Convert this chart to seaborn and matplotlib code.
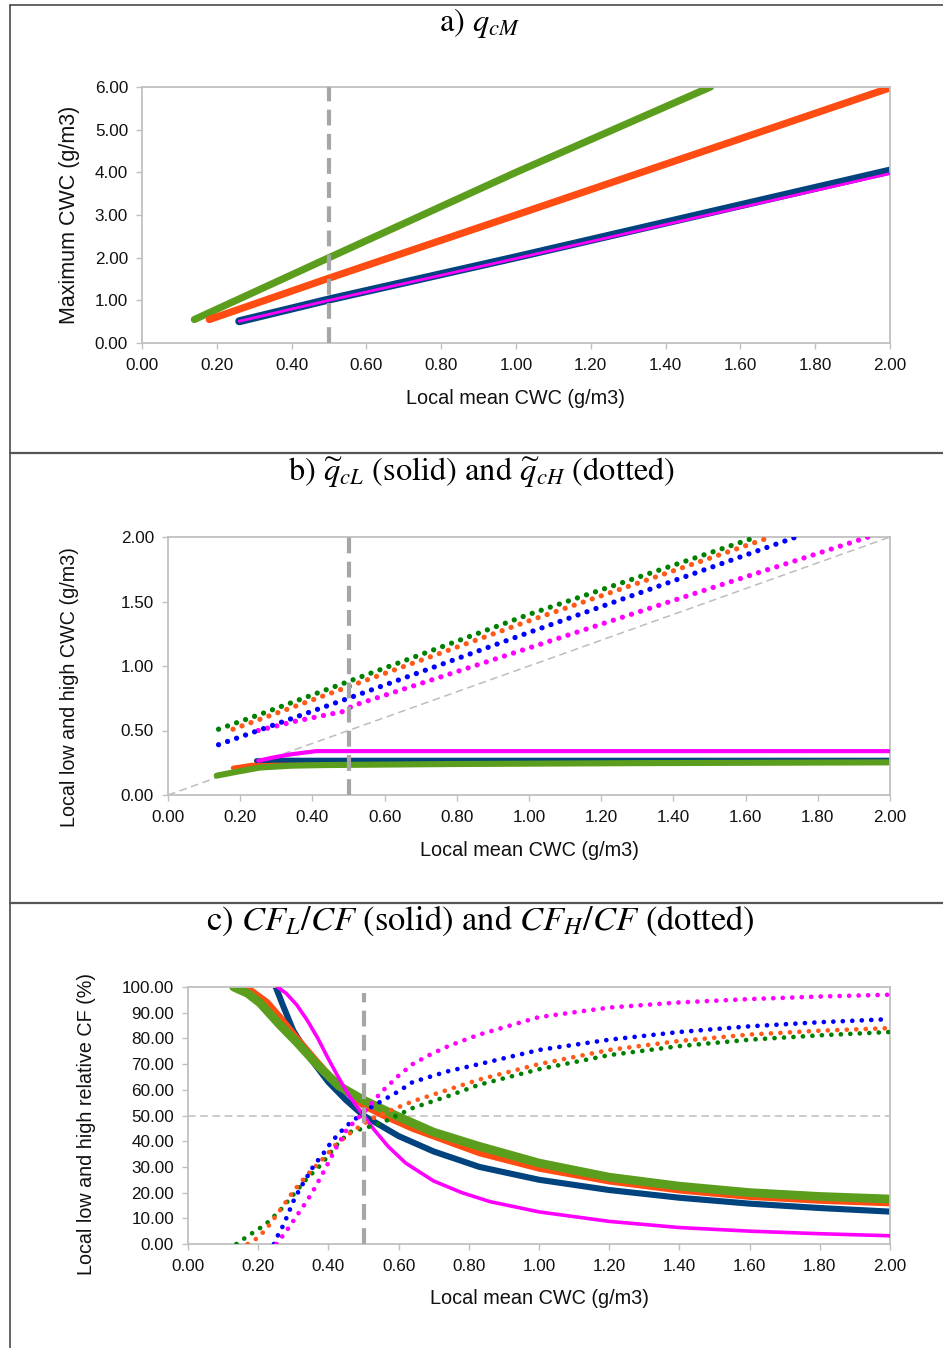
import numpy as np
import pandas as pd
import matplotlib
matplotlib.use("Agg")
import matplotlib.pyplot as plt
from matplotlib.lines import Line2D
from matplotlib.ticker import MultipleLocator, FormatStrFormatter
import seaborn as sns

# ---------------- data ----------------
REF_X = 0.5
REF_CF = 50.0
DIAG = [0.0, 2.0]

# panel a : maximum CWC
a_x_green = [0.14, 0.50, 1.00, 1.52]
a_y_green = [0.55, 2.00, 4.00, 6.00]
a_x_orange = [0.18, 0.50, 1.00, 2.00]
a_y_orange = [0.55, 1.52, 3.00, 5.98]
a_x_navy = [0.26, 0.50, 1.00, 2.00]
a_y_navy = [0.51, 1.02, 2.01, 4.04]
a_x_magenta = [0.26, 0.50, 1.00, 2.00]
a_y_magenta = [0.51, 1.00, 1.98, 3.97]

# panel b : low (solid) and high (dotted) CWC
b_x_hi_green = [0.14, 0.25, 0.50, 1.00, 1.63]
b_y_hi_green = [0.51, 0.62, 0.88, 1.40, 2.00]
b_x_hi_orange = [0.18, 0.50, 1.00, 1.67]
b_y_hi_orange = [0.51, 0.84, 1.35, 2.00]
b_x_hi_blue = [0.14, 0.50, 1.00, 1.74]
b_y_hi_blue = [0.39, 0.75, 1.26, 2.00]
b_x_hi_magenta = [0.25, 0.35, 0.49, 0.51, 1.00, 1.50, 1.94]
b_y_hi_magenta = [0.50, 0.57, 0.65, 0.69, 1.14, 1.60, 2.00]

b_x_lo_green = [0.135, 0.19, 0.255, 0.34, 0.43, 0.78, 1.30, 2.00]
b_y_lo_green = [0.15, 0.18, 0.213, 0.227, 0.232, 0.240, 0.247, 0.253]
b_x_lo_orange = [0.18, 0.23, 0.32, 0.60, 2.00]
b_y_lo_orange = [0.21, 0.232, 0.25, 0.255, 0.262]
b_x_lo_navy = [0.245, 0.30, 2.00]
b_y_lo_navy = [0.266, 0.270, 0.270]
b_x_lo_magenta = [0.25, 0.29, 0.34, 0.41, 2.00]
b_y_lo_magenta = [0.265, 0.29, 0.315, 0.34, 0.34]

# panel c : relative cloud fractions
c_x_lo_green = [0.13, 0.17, 0.205, 0.26, 0.31, 0.37, 0.43, 0.50, 0.60, 0.70, 0.83, 1.00, 1.20, 1.40, 1.60, 1.80, 2.00]
c_y_lo_green = [100, 97.5, 93.8, 85.5, 78.5, 69.5, 61.5, 56, 49.5, 43.5, 38, 31.5, 26, 22.5, 20, 18.5, 17.5]
c_x_lo_orange = [0.165, 0.20, 0.225, 0.26, 0.31, 0.36, 0.405, 0.45, 0.50, 0.55, 0.64, 0.74, 0.83, 1.00, 1.20, 1.40, 1.60, 1.80, 2.00]
c_y_lo_orange = [100, 96.5, 94, 88.5, 80, 72, 65, 59.5, 54, 50.5, 45, 40, 35.5, 29.5, 24.5, 21, 18.5, 17, 16]
c_x_lo_navy = [0.25, 0.27, 0.30, 0.35, 0.40, 0.45, 0.50, 0.60, 0.70, 0.83, 1.00, 1.20, 1.40, 1.60, 1.80, 2.00]
c_y_lo_navy = [100, 93, 83, 72, 63, 56, 50, 42, 36, 30, 25, 21, 18, 15.7, 14, 12.6]
c_x_lo_magenta = [0.255, 0.28, 0.31, 0.34, 0.37, 0.40, 0.43, 0.46, 0.50, 0.53, 0.57, 0.62, 0.70, 0.78, 0.86, 1.00, 1.20, 1.40, 1.60, 1.80, 2.00]
c_y_lo_magenta = [100, 97.5, 93, 87, 80, 72, 64.5, 57.5, 50, 44.5, 38, 31.5, 24.5, 20, 16.5, 12.5, 8.8, 6.4, 5.0, 4.0, 3.2]

c_x_hi_green = [0.138, 0.176, 0.22, 0.26, 0.30, 0.34, 0.38, 0.42, 0.46, 0.50, 0.55, 0.60, 0.64, 0.74, 0.83, 1.00, 1.20, 1.40, 1.60, 1.80, 2.00]
c_y_hi_green = [0, 3.6, 7.5, 12.7, 19.2, 25.7, 31, 38, 43.5, 45, 47, 50.3, 52.9, 57.5, 62, 68, 73.5, 77, 79.5, 81.2, 82.5]
c_x_hi_orange = [0.17, 0.20, 0.225, 0.26, 0.30, 0.34, 0.38, 0.42, 0.47, 0.52, 0.57, 0.64, 0.74, 0.83, 1.00, 1.20, 1.40, 1.60, 1.80, 2.00]
c_y_hi_orange = [0, 2.5, 6.2, 12.7, 20.5, 27, 32.5, 38.5, 44, 48.5, 51.6, 55.5, 60, 64, 70, 75.5, 79, 81.5, 83, 84]
c_x_hi_blue = [0.245, 0.257, 0.27, 0.28, 0.30, 0.32, 0.34, 0.36, 0.38, 0.41, 0.45, 0.48, 0.51, 0.55, 0.60, 0.64, 0.74, 0.83, 1.00, 1.20, 1.40, 1.60, 1.80, 2.00]
c_y_hi_blue = [0, 3.6, 6.9, 10, 16.6, 21.8, 26.3, 30.9, 34.1, 40, 45.8, 49, 52.3, 55.5, 59.4, 63, 67.2, 70, 75.5, 79.5, 82.5, 84.7, 86.3, 87.5]
c_x_hi_magenta = [0.252, 0.28, 0.30, 0.32, 0.34, 0.36, 0.39, 0.42, 0.45, 0.48, 0.50, 0.55, 0.60, 0.64, 0.69, 0.74, 0.79, 0.83, 1.00, 1.20, 1.40, 1.60, 1.80, 2.00]
c_y_hi_magenta = [0, 5, 9, 13, 17, 21.5, 29, 37, 44, 48.5, 51, 59, 65.5, 70, 73.7, 76.9, 79.5, 81.5, 88.3, 92, 94, 95.3, 96.3, 97]

x_ticks = [0.0, 0.2, 0.4, 0.6, 0.8, 1.0, 1.2, 1.4, 1.6, 1.8, 2.0]

# ---------------- style ----------------
GREEN = "#5b9e1e"
ORANGE = "#ff4c12"
NAVY = "#00437e"
MAGENTA = "#ff00ff"
GREEN_D = "#008000"
ORANGE_D = "#ff5a1a"
BLUE_D = "#0000ff"
MAGENTA_D = "#ff00ff"
GREY = "#a6a6a6"
SPINE = "#c0c0c0"

sns.set_style("white")
plt.rcParams["font.family"] = ["Liberation Sans", "DejaVu Sans"]
plt.rcParams["mathtext.fontset"] = "stix"

W, H = 943, 1348
fig = plt.figure(figsize=(W / 100, H / 100), dpi=100)


def make_ax(left, right, top, bottom):
    return fig.add_axes([left / W, 1 - bottom / H, (right - left) / W, (bottom - top) / H])


def draw(ax, xs, ys, color, lw, dotted=False, z=2, gap=1.9):
    df = pd.DataFrame({"x": xs, "y": ys})
    kw = dict(data=df, x="x", y="y", ax=ax, color=color, linewidth=lw,
              estimator=None, sort=False, legend=False, zorder=z)
    if dotted:
        kw.update(linestyle=(0, (0.01, gap)), dash_capstyle="round")
    else:
        kw.update(solid_capstyle="round", solid_joinstyle="round")
    sns.lineplot(**kw)


def style_ax(ax, ymax, ystep, xlabel, ylabel, xl_y, yl_x, yl_y, ylsize=14.2):
    ax.set_xlim(0, 2.0)
    ax.set_ylim(0, ymax)
    ax.set_xticks(x_ticks)
    ax.yaxis.set_major_locator(MultipleLocator(ystep))
    ax.xaxis.set_major_formatter(FormatStrFormatter("%.2f"))
    ax.yaxis.set_major_formatter(FormatStrFormatter("%.2f"))
    for s in ax.spines.values():
        s.set_color(SPINE)
        s.set_linewidth(1.3)
        s.set_visible(True)
    ax.tick_params(axis="both", direction="out", length=4, width=1.0, color=SPINE,
                   labelsize=12.3, labelcolor="#111111", pad=6)
    ax.tick_params(axis="x", pad=7)
    ax.tick_params(bottom=True, left=True, top=False, right=False)
    ax.set_xlabel(xlabel, fontsize=14.3, color="#111111")
    ax.set_ylabel(ylabel, fontsize=ylsize, color="#111111")
    ax.xaxis.set_label_coords(0.5, xl_y)
    ax.xaxis.label.set_va("center")
    ax.yaxis.set_label_coords(yl_x, yl_y)
    ax.yaxis.label.set_va("center")
    ax.yaxis.label.set_ha("center")
    ax.grid(False)


def vline(ax, ymax=1.0):
    ax.axvline(REF_X, ymin=0, ymax=ymax, color=GREY, linewidth=3.0,
               linestyle=(0, (3.8, 2.0)), zorder=10)


# ---------------- panel a ----------------
axa = make_ax(142, 890, 87, 343)
draw(axa, a_x_green, a_y_green, GREEN, 5.2)
draw(axa, a_x_orange, a_y_orange, ORANGE, 5.2)
draw(axa, a_x_navy, a_y_navy, NAVY, 5.8)
draw(axa, a_x_magenta, a_y_magenta, MAGENTA, 2.0, z=3)
vline(axa)
style_ax(axa, 6.0, 1.0, "Local mean CWC (g/m3)", "Maximum CWC (g/m3)",
         -55 / 256, -72 / 748, 0.5, ylsize=15.5)

# ---------------- panel b ----------------
axb = make_ax(168, 890, 537, 795)
axb.plot(DIAG, DIAG, color="#bdbdbd", linewidth=1.1, linestyle=(0, (5, 3)), zorder=1)
draw(axb, b_x_lo_orange, b_y_lo_orange, ORANGE, 3.2)
draw(axb, b_x_lo_navy, b_y_lo_navy, NAVY, 3.6)
draw(axb, b_x_lo_green, b_y_lo_green, GREEN, 4.4)
draw(axb, b_x_lo_magenta, b_y_lo_magenta, MAGENTA, 3.0, z=3)
draw(axb, b_x_hi_magenta, b_y_hi_magenta, MAGENTA_D, 3.8, dotted=True, z=4, gap=1.8)
draw(axb, b_x_hi_blue, b_y_hi_blue, BLUE_D, 3.8, dotted=True, z=4, gap=1.8)
draw(axb, b_x_hi_orange, b_y_hi_orange, ORANGE_D, 3.8, dotted=True, z=4, gap=1.8)
draw(axb, b_x_hi_green, b_y_hi_green, GREEN_D, 3.8, dotted=True, z=4, gap=1.8)
vline(axb)
style_ax(axb, 2.0, 0.5, "Local mean CWC (g/m3)", "Local low and high CWC (g/m3)",
         -55 / 258, -98 / 722, 108 / 258)

# ---------------- panel c ----------------
axc = make_ax(188, 890, 987, 1244)
axc.axhline(REF_CF, color="#bdbdbd", linewidth=1.1, linestyle=(0, (5, 3)), zorder=1)
draw(axc, c_x_lo_navy, c_y_lo_navy, NAVY, 4.4)
draw(axc, c_x_lo_orange, c_y_lo_orange, ORANGE, 5.0)
draw(axc, c_x_lo_green, c_y_lo_green, GREEN, 6.3)
draw(axc, c_x_lo_magenta, c_y_lo_magenta, MAGENTA, 2.6, z=3)
draw(axc, c_x_hi_green, c_y_hi_green, GREEN_D, 3.4, dotted=True, z=4, gap=2.0)
draw(axc, c_x_hi_orange, c_y_hi_orange, ORANGE_D, 3.4, dotted=True, z=4, gap=2.0)
draw(axc, c_x_hi_blue, c_y_hi_blue, BLUE_D, 3.4, dotted=True, z=4, gap=2.0)
draw(axc, c_x_hi_magenta, c_y_hi_magenta, MAGENTA_D, 3.4, dotted=True, z=4, gap=2.0)
vline(axc, ymax=0.975)
style_ax(axc, 100.0, 10.0, "Local mean CWC (g/m3)", "Local low and high relative CF (%)",
         -55 / 257, -101 / 702, 120 / 257)

# ---------------- titles ----------------
tkw = dict(ha="center", va="center", family="STIXGeneral", color="black")
fig.text(480 / W, 1 - 23 / H, r"a) $q_{cM}$", fontsize=23.3, **tkw)
fig.text(481 / W, 1 - 472 / H, r"b) $\widetilde{q}_{cL}$ (solid) and $\widetilde{q}_{cH}$ (dotted)",
         fontsize=23.3, **tkw)
fig.text(480 / W, 1 - 921 / H, r"c) $CF_L/CF$ (solid) and $CF_H/CF$ (dotted)", fontsize=24.8, **tkw)

# ---------------- table frame ----------------
frame = dict(color="#3a3a3a", linewidth=1.1, transform=fig.transFigure)
fig.add_artist(Line2D([9.5 / W, 1.0], [1 - 5 / H, 1 - 5 / H], **frame))
fig.add_artist(Line2D([9.5 / W, 9.5 / W], [0.0, 1 - 5 / H], **frame))
fig.add_artist(Line2D([9.5 / W, 1.0], [1 - 453 / H, 1 - 453 / H], color="#555555", linewidth=1.6,
                      transform=fig.transFigure))
fig.add_artist(Line2D([9.5 / W, 1.0], [1 - 903 / H, 1 - 903 / H], color="#555555", linewidth=1.6,
                      transform=fig.transFigure))

fig.savefig("out.png", dpi=100)
